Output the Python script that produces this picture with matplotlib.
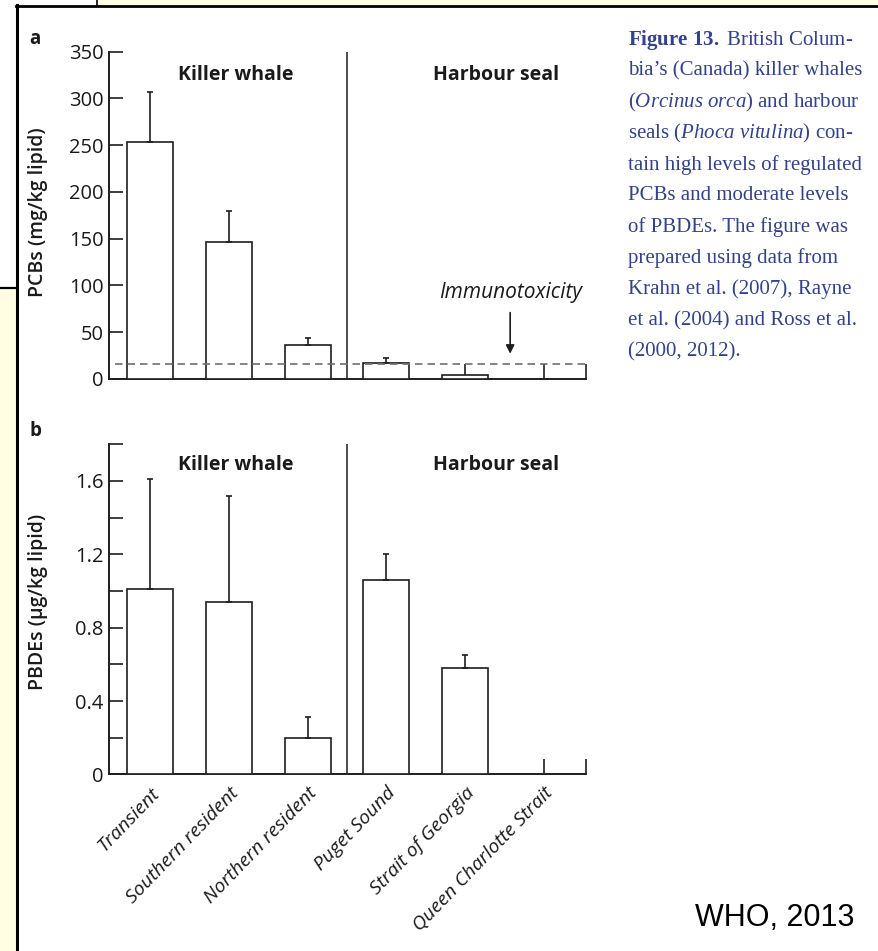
"""Fig. 13 redraw: PCBs and PBDEs in BC killer whales and harbour seals."""
import matplotlib
matplotlib.use("Agg")
import matplotlib.pyplot as plt
from matplotlib.lines import Line2D
from matplotlib.patches import Rectangle
import numpy as np

SANS = ["Open Sans", "DejaVu Sans"]
plt.rcParams["font.family"] = SANS
plt.rcParams["mathtext.fontset"] = "custom"
plt.rcParams["mathtext.rm"] = "Liberation Serif"
plt.rcParams["mathtext.it"] = "Liberation Serif:italic"
plt.rcParams["mathtext.bf"] = "Liberation Serif:bold"

categories = ["Transient", "Southern resident", "Northern resident",
              "Puget Sound", "Strait of Georgia", "Queen Charlotte Strait"]
groups = ["Killer whale", "Harbour seal"]

pcb_mean = [253, 146, 36, 17.5, 4, np.nan]
pcb_err = [54, 34, 8, 4.5, np.nan, np.nan]
pcb_ticks = [0, 50, 100, 150, 200, 250, 300, 350]
immuno_threshold = 16

pbde_mean = [1.01, 0.94, 0.20, 1.06, 0.58, np.nan]
pbde_err = [0.60, 0.58, 0.115, 0.14, 0.07, np.nan]
pbde_ticks = [0, 0.2, 0.4, 0.6, 0.8, 1.0, 1.2, 1.4, 1.6, 1.8]
pbde_ticklabels = ["0", "", "0.4", "", "0.8", "", "1.2", "", "1.6", ""]

caption = [
    r"$\mathbf{Figure\ 13.\ }$British Colum-",
    "bia\u2019s (Canada) killer whales",
    r"($\mathit{Orcinus\ orca}$) and harbour",
    r"seals ($\mathit{Phoca\ vitulina}$) con-",
    "tain high levels of regulated",
    "PCBs and moderate levels",
    "of PBDEs. The figure was",
    "prepared using data from",
    "Krahn et al. (2007), Rayne",
    "et al. (2004) and Ross et al.",
    "(2000, 2012).",
]

INK = "#1e1e1e"
TXT = "#1a1a1a"
CAP = "#33428a"
YELLOW = "#fffde2"
W, H = 879, 951

fig = plt.figure(figsize=(W / 100, H / 100), dpi=100)
fig.patch.set_facecolor("white")


def px(x, y):
    return x / W, 1 - y / H


# slide frame bits round the figure
fig.patches.append(Rectangle(px(97, 6), (W - 97) / W, 6 / H, transform=fig.transFigure,
                             facecolor=YELLOW, edgecolor="none", zorder=0))
fig.patches.append(Rectangle(px(0, H), 16 / W, (H - 288) / H, transform=fig.transFigure,
                             facecolor=YELLOW, edgecolor="none", zorder=0))
for (x0, y0), (x1, y1), lw in [((97, 0), (97, 6), 1.2), ((16, 6), (W, 6), 2.0),
                               ((17, 5), (17, H), 2.2), ((0, 288), (17, 288), 1.6)]:
    fig.lines.append(Line2D(*zip(px(x0, y0), px(x1, y1)), transform=fig.transFigure,
                            color="black", lw=lw))

x = np.arange(len(categories))
XLIM = (-0.527, 5.54)
BAR_W = 0.585


def panel(rect, mean, err, ylim, yticks, yticklabels, ylabel, ylabel_y, group_y, letter):
    ax = fig.add_axes(rect)
    ax.set_facecolor("none")
    mean = np.asarray(mean, float)
    err = np.asarray(err, float)
    ok = ~np.isnan(mean)
    ax.bar(x[ok], mean[ok], width=BAR_W, facecolor="white", edgecolor=INK,
           linewidth=1.2, zorder=3)
    ek = ~np.isnan(err)
    ax.errorbar(x[ek], mean[ek], yerr=[np.zeros(ek.sum()), err[ek]], fmt="none",
                ecolor=INK, elinewidth=1.2, capsize=2.5, capthick=1.2, zorder=4)
    ax.axvline(2.5, color=INK, lw=1.1, zorder=2)
    ax.set_xlim(*XLIM)
    ax.set_ylim(*ylim)
    for s in ["top", "right"]:
        ax.spines[s].set_visible(False)
    for s in ["left", "bottom"]:
        ax.spines[s].set_linewidth(1.4)
        ax.spines[s].set_color(INK)
    ax.set_yticks(yticks)
    ax.set_yticklabels(yticklabels)
    ax.tick_params(axis="y", direction="in", length=10, width=1.2, color=INK,
                   pad=4, labelsize=14.5, labelcolor=TXT)
    ax.set_xticks(list(x) + [XLIM[1]])
    ax.tick_params(axis="x", direction="in", length=10.5, width=1.2, color=INK)
    ax.set_ylabel(ylabel, fontsize=14, color=TXT, fontweight="semibold")
    ax.yaxis.set_label_coords(-0.127, ylabel_y)
    ax.text(1.08, group_y, groups[0], ha="center", va="center", fontsize=14,
            fontweight="bold", color=TXT)
    ax.text(4.39, group_y, groups[1], ha="center", va="center", fontsize=14,
            fontweight="bold", color=TXT)
    ax.text(-0.155, 1.04, letter, transform=ax.transAxes, ha="center", va="center",
            fontsize=13.5, fontweight="bold", color=TXT)
    return ax


ax_a = panel([0.124, 0.6015, 0.5427, 0.3442], pcb_mean, pcb_err, (0, 350),
             pcb_ticks, [str(t) for t in pcb_ticks], "PCBs (mg/kg lipid)", 0.51, 325, "a")
ax_a.set_xticklabels([])
ax_a.axhline(immuno_threshold, xmin=0.012, xmax=1, color="#6e6e6e", lw=1.2,
             ls=(0, (4.5, 3)), zorder=5)
ax_a.text(4.575, 92, "Immunotoxicity", ha="center", va="center", fontsize=15,
          style="italic", color=TXT)
ax_a.annotate("", xy=(4.575, 27), xytext=(4.575, 71),
              arrowprops=dict(arrowstyle="-|>,head_length=0.5,head_width=0.25",
                              color=INK, lw=1.2, shrinkA=0, shrinkB=0))

ax_b = panel([0.124, 0.1857, 0.5427, 0.3471], pbde_mean, pbde_err, (0, 1.8),
             pbde_ticks, pbde_ticklabels, "PBDEs (\u00b5g/kg lipid)", 0.522, 1.687, "b")
ax_b.set_xticklabels(categories + [""], rotation=46, ha="right", va="top",
                     rotation_mode="anchor", fontsize=14, style="italic", color=TXT)
ax_b.tick_params(axis="x", pad=7)

for i, line in enumerate(caption):
    fig.text(628 / W, 1 - (40 + i * 31.2) / H, line, ha="left", va="center",
             fontsize=15, color=CAP, family=["Liberation Serif", "DejaVu Serif"])

fig.text(855 / W, 1 - 918 / H, "WHO, 2013", ha="right", va="center", fontsize=22,
         color="black", family=["Liberation Sans", "DejaVu Sans"])

fig.savefig("out.png", dpi=100, facecolor="white")
print("wrote out.png")
